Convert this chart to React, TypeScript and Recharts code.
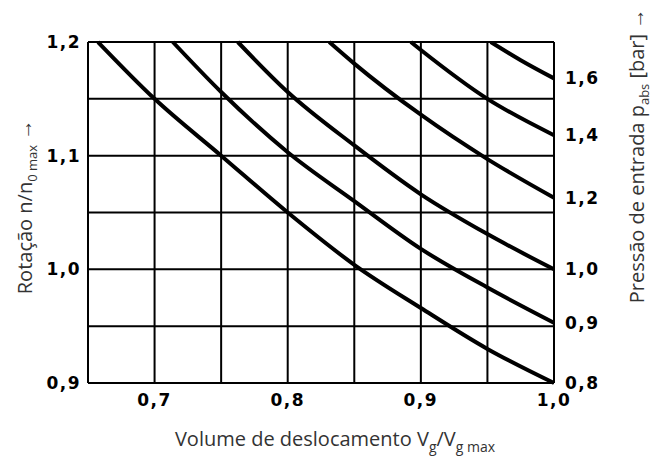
import React from 'react';
import { LineChart, Line, XAxis, YAxis, CartesianGrid } from 'recharts';

// Displacement volume ticks (x) and speed ticks (y)
const volumeTicks = [0.65, 0.7, 0.75, 0.8, 0.85, 0.9, 0.95, 1.0];
const speedTicks = [0.9, 0.95, 1.0, 1.05, 1.1, 1.15, 1.2];

// One curve per inlet pressure
const curve08 = [
    { v: 0.6575, n: 1.2 },
    { v: 0.7, n: 1.15 },
    { v: 0.75, n: 1.1 },
    { v: 0.8, n: 1.05 },
    { v: 0.85, n: 1.004 },
    { v: 0.9, n: 0.966 },
    { v: 0.95, n: 0.93 },
    { v: 1.0, n: 0.9 },
];
const curve09 = [
    { v: 0.7137, n: 1.2 },
    { v: 0.75, n: 1.156 },
    { v: 0.8, n: 1.103 },
    { v: 0.85, n: 1.06 },
    { v: 0.9, n: 1.018 },
    { v: 0.95, n: 0.984 },
    { v: 1.0, n: 0.953 },
];
const curve10 = [
    { v: 0.7625, n: 1.2 },
    { v: 0.8, n: 1.156 },
    { v: 0.85, n: 1.109 },
    { v: 0.9, n: 1.066 },
    { v: 0.95, n: 1.031 },
    { v: 1.0, n: 1.0 },
];
const curve12 = [
    { v: 0.8312, n: 1.2 },
    { v: 0.85, n: 1.181 },
    { v: 0.9, n: 1.136 },
    { v: 0.95, n: 1.097 },
    { v: 1.0, n: 1.063 },
];
const curve14 = [
    { v: 0.8925, n: 1.2 },
    { v: 0.9, n: 1.193 },
    { v: 0.95, n: 1.15 },
    { v: 1.0, n: 1.118 },
];
const curve16 = [
    { v: 0.9525, n: 1.2 },
    { v: 0.975, n: 1.184 },
    { v: 1.0, n: 1.168 },
];

const curves = [curve08, curve09, curve10, curve12, curve14, curve16];
const pressureLabels = ['0,8', '0,9', '1,0', '1,2', '1,4', '1,6'];
// right-hand ticks sit where each curve ends
const pressureTicks = curves.map(c => c[c.length - 1].n);

const tickFont = {
    fontFamily: "'DejaVu Sans', sans-serif",
    fontWeight: 700,
    fontSize: 17,
    letterSpacing: 1.5,
    fill: '#000',
};
const titleFont = {
    fontFamily: "'Open Sans', 'Noto Sans', sans-serif",
    fontWeight: 400,
    fontSize: 20,
    fill: '#333',
};

// only every second grid line gets a label
const onTenth = (v: number) => Math.abs(v * 10 - Math.round(v * 10)) < 1e-6;
const fmt = (v: number) => (onTenth(v) ? v.toFixed(1).replace('.', ',') : '');
const pressureFmt = (v: number) => {
    const i = pressureTicks.findIndex(t => Math.abs(t - v) < 1e-6);
    return i >= 0 ? pressureLabels[i] : '';
};

const App: React.FC = () => {
    return (
        <div style={{ position: 'absolute', left: 0, top: 0, width: 664, height: 465, background: '#fff' }}>
            <LineChart width={664} height={465} margin={{ top: 42, left: 28, right: 50, bottom: 52 }}>
                <CartesianGrid yAxisId="left" stroke="#000" strokeWidth={2} />
                <XAxis
                    type="number"
                    dataKey="v"
                    domain={[0.65, 1.0]}
                    ticks={volumeTicks}
                    interval={0}
                    height={30}
                    tickLine={false}
                    tickSize={0}
                    tickMargin={11}
                    axisLine={{ stroke: '#000', strokeWidth: 2 }}
                    tickFormatter={fmt}
                    tick={tickFont}
                />
                <YAxis
                    yAxisId="left"
                    type="number"
                    domain={[0.9, 1.2]}
                    ticks={speedTicks}
                    interval={0}
                    width={60}
                    tickLine={false}
                    tickSize={0}
                    tickMargin={7}
                    axisLine={{ stroke: '#000', strokeWidth: 2 }}
                    tickFormatter={fmt}
                    tick={tickFont}
                />
                <YAxis
                    yAxisId="right"
                    orientation="right"
                    type="number"
                    domain={[0.9, 1.2]}
                    allowDataOverflow
                    ticks={pressureTicks}
                    interval={0}
                    width={60}
                    tickLine={false}
                    tickSize={0}
                    tickMargin={11}
                    axisLine={{ stroke: '#000', strokeWidth: 2 }}
                    tickFormatter={pressureFmt}
                    tick={tickFont}
                />
                {curves.map((c, i) => (
                    <Line
                        key={pressureLabels[i]}
                        // the two y axes share one domain, so the top curve can live on the right one
                        yAxisId={i === curves.length - 1 ? 'right' : 'left'}
                        data={c}
                        dataKey="n"
                        type="monotone"
                        stroke="#000"
                        strokeWidth={4}
                        dot={false}
                        isAnimationActive={false}
                    />
                ))}
            </LineChart>
            <svg width={664} height={465} style={{ position: 'absolute', left: 0, top: 0, pointerEvents: 'none' }}>
                <text transform="translate(32,207) rotate(-90)" textAnchor="middle" {...titleFont}>
                    Rotação n/n
                    <tspan dy={5} fontSize={13}>0 max</tspan>
                    <tspan dy={-5}> →</tspan>
                </text>
                <text x={335} y={446} textAnchor="middle" {...titleFont}>
                    Volume de deslocamento V
                    <tspan dy={6} fontSize={14}>g</tspan>
                    <tspan dy={-6}>/V</tspan>
                    <tspan dy={6} fontSize={14}>g max</tspan>
                </text>
                <text transform="translate(644,156) rotate(-90)" textAnchor="middle" {...titleFont}>
                    Pressão de entrada p
                    <tspan dy={5} fontSize={13}>abs</tspan>
                    <tspan dy={-5}> [bar]  →</tspan>
                </text>
            </svg>
        </div>
    );
};

export default App;
